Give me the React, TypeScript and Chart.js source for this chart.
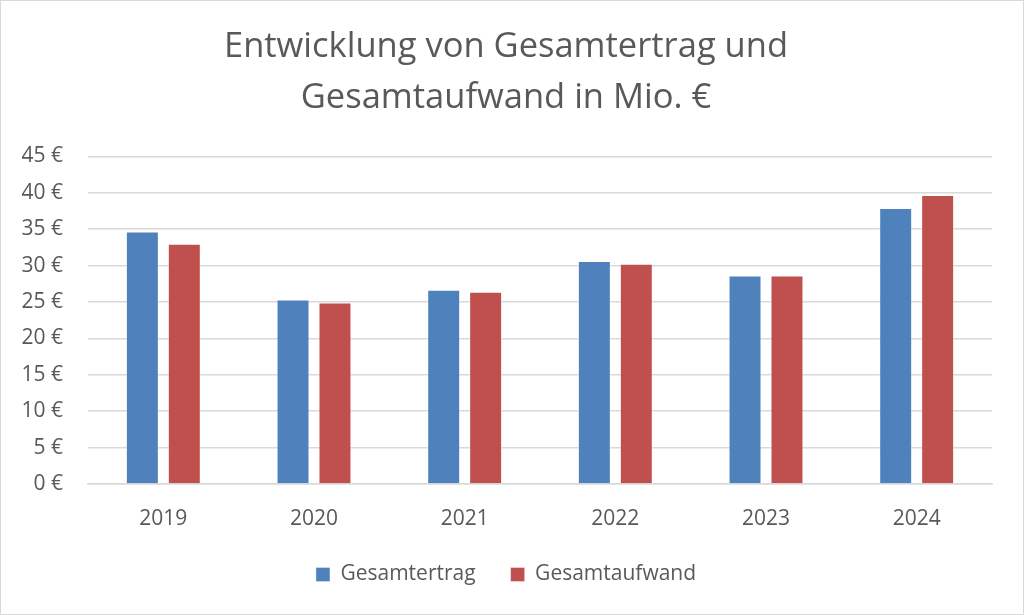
import React, { useEffect, useRef } from "react";
import { Chart, registerables } from "chart.js";

Chart.register(...registerables);

const categories = ["2019", "2020", "2021", "2022", "2023", "2024"];
const gesamtertrag = [34.7, 25.35, 26.7, 30.65, 28.65, 37.9];
const gesamtaufwand = [33.0, 24.95, 26.4, 30.25, 28.65, 39.7];
const titleLines = ["Entwicklung von Gesamtertrag und", "Gesamtaufwand in Mio. €"];
const seriesNames = ["Gesamtertrag", "Gesamtaufwand"];

const FONT = "'Open Sans', sans-serif";
const TEXT = "#595959";

export default function App() {
  const ref = useRef<HTMLCanvasElement | null>(null);

  useEffect(() => {
    if (!ref.current) return;
    const chart = new Chart(ref.current, {
      type: "bar",
      data: {
        labels: categories,
        datasets: [
          {
            label: seriesNames[0],
            data: gesamtertrag,
            backgroundColor: "#4F81BD",
            borderColor: "rgba(255,255,255,0.35)",
            borderWidth: 1,
            categoryPercentage: 0.557,
            barPercentage: 0.786,
          },
          {
            label: seriesNames[1],
            data: gesamtaufwand,
            backgroundColor: "#C0504D",
            borderColor: "rgba(255,255,255,0.35)",
            borderWidth: 1,
            categoryPercentage: 0.557,
            barPercentage: 0.786,
          },
        ],
      },
      options: {
        animation: false,
        responsive: false,
        maintainAspectRatio: false,
        layout: { padding: { left: 19, right: 31, top: 21, bottom: 19 } },
        plugins: {
          title: {
            display: true,
            text: titleLines,
            color: TEXT,
            font: { family: FONT, size: 34.5, weight: "normal", lineHeight: 1.47 },
            padding: { top: 0, bottom: 33 },
          },
          legend: {
            position: "bottom",
            labels: {
              color: TEXT,
              font: { family: FONT, size: 21 },
              boxWidth: 14,
              boxHeight: 14,
              padding: 35,
            },
          },
          tooltip: { enabled: false },
        },
        scales: {
          x: {
            afterFit: (scale: any) => {
              scale.height = 45;
            },
            grid: { display: false, drawTicks: false },
            border: { display: true, color: "#d9d9d9", width: 1.5 },
            ticks: { color: TEXT, font: { family: FONT, size: 21 }, padding: 22 },
          },
          y: {
            min: 0,
            max: 45,
            afterFit: (scale: any) => {
              scale.width = 68;
            },
            grid: { color: "#d9d9d9", lineWidth: 1.5, drawTicks: false },
            border: { display: false },
            ticks: {
              stepSize: 5,
              color: TEXT,
              font: { family: FONT, size: 21 },
              padding: 25,
              callback: (v: any) => `${v} €`,
            },
          },
        },
      },
    });
    return () => chart.destroy();
  }, []);

  return (
    <div
      style={{
        position: "absolute",
        left: 0,
        top: 0,
        width: 1024,
        height: 615,
        boxSizing: "border-box",
        border: "1px solid #d9d9d9",
        background: "#fff",
      }}
    >
      <canvas ref={ref} width={1022} height={613} style={{ display: "block" }} />
    </div>
  );
}
